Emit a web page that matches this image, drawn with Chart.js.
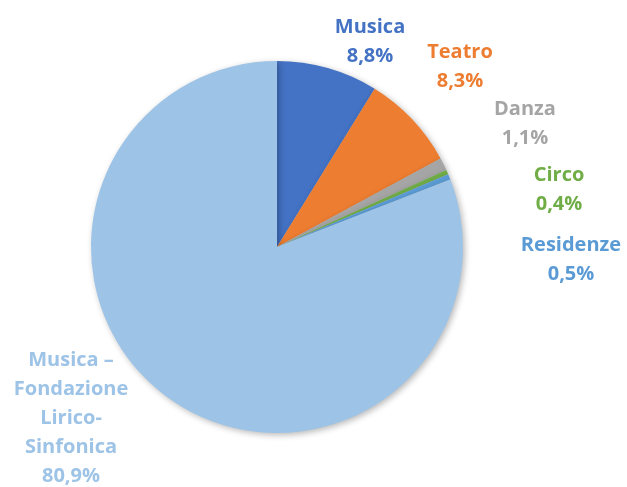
<!DOCTYPE html>
<html><head><meta charset="utf-8">
<script src="https://cdn.jsdelivr.net/npm/chart.js@4.4.1/dist/chart.umd.min.js"></script>
<style>html,body{margin:0;padding:0;background:#fff}#wrap{width:627px;height:487px;position:relative}</style>
</head><body><div id="wrap"><canvas id="c" width="627" height="487"></canvas></div>
<script>
const categories = ["Musica", "Teatro", "Danza", "Circo", "Residenze", "Musica – Fondazione Lirico-Sinfonica"];
const labelLines = [["Musica"], ["Teatro"], ["Danza"], ["Circo"], ["Residenze"], ["Musica –", "Fondazione", "Lirico-", "Sinfonica"]];
const values = [8.8, 8.3, 1.1, 0.4, 0.5, 80.9];
const colors = ["#4472C4", "#ED7D31", "#A5A5A5", "#70AD47", "#5B9BD5", "#9DC3E6"];
// label anchor: centre x, first baseline y
const labelAnchors = [[370, 33], [460, 58], [525, 115], [559, 181], [571, 251], [71, 366]];

const fmt = v => v.toFixed(1).replace('.', ',') + '%';

const shadowPlugin = {
  id: 'shadow',
  beforeDatasetsDraw(chart) {
    const ctx = chart.ctx;
    ctx.save();
    ctx.shadowColor = 'rgba(0,0,0,0.28)';
    ctx.shadowBlur = 6;
    ctx.shadowOffsetX = 2;
    ctx.shadowOffsetY = 2;
  },
  afterDatasetsDraw(chart) { chart.ctx.restore(); }
};

const labelPlugin = {
  id: 'labels',
  afterDraw(chart) {
    const ctx = chart.ctx;
    ctx.save();
    ctx.font = 'bold 20px "Open Sans"';
    ctx.textAlign = 'center';
    ctx.textBaseline = 'alphabetic';
    const lh = 29;
    values.forEach((v, i) => {
      const lines = labelLines[i].concat([fmt(v)]);
      ctx.fillStyle = colors[i];
      const [x, y] = labelAnchors[i];
      lines.forEach((t, k) => ctx.fillText(t, x, y + k * lh));
    });
    ctx.restore();
  }
};

new Chart(document.getElementById('c'), {
  type: 'pie',
  data: {
    labels: categories,
    datasets: [{ data: values, backgroundColor: colors, borderWidth: 0 }]
  },
  options: {
    responsive: false,
    animation: false,
    layout: { padding: { left: 91, right: 164, top: 61, bottom: 54 } },
    plugins: { legend: { display: false }, tooltip: { enabled: false } }
  },
  plugins: [shadowPlugin, labelPlugin]
});
</script>
</body></html>
